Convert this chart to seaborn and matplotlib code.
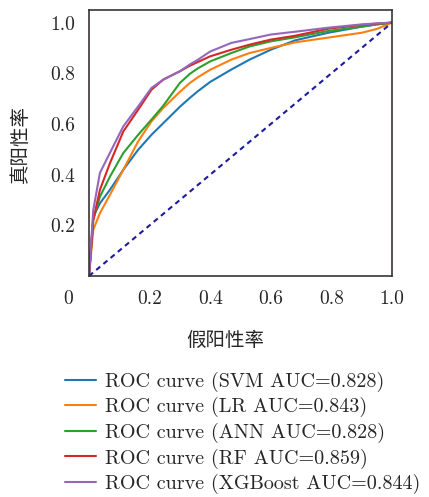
import numpy as np
import pandas as pd
import seaborn as sns
import matplotlib.pyplot as plt

# false positive rate grid
fpr = [0, 0.014, 0.036, 0.069, 0.113, 0.162, 0.206, 0.245, 0.30, 0.333,
       0.36, 0.40, 0.47, 0.53, 0.60, 0.68, 0.79, 0.90, 0.95, 1.0]

tpr_svm = [0, 0.234, 0.287, 0.340, 0.419, 0.498, 0.557, 0.603, 0.668, 0.703,
           0.730, 0.766, 0.815, 0.854, 0.893, 0.930, 0.960, 0.984, 0.993, 1.0]
tpr_lr = [0, 0.182, 0.248, 0.320, 0.419, 0.531, 0.610, 0.663, 0.727, 0.762,
          0.785, 0.814, 0.854, 0.880, 0.900, 0.922, 0.941, 0.960, 0.975, 1.0]
tpr_ann = [0, 0.221, 0.313, 0.392, 0.485, 0.557, 0.617, 0.672, 0.762, 0.798,
           0.820, 0.847, 0.880, 0.906, 0.926, 0.942, 0.967, 0.984, 0.993, 1.0]
tpr_rf = [0, 0.221, 0.340, 0.445, 0.570, 0.656, 0.735, 0.775, 0.808, 0.830,
          0.845, 0.867, 0.893, 0.913, 0.933, 0.948, 0.976, 0.991, 0.996, 1.0]
tpr_xgb = [0, 0.260, 0.407, 0.486, 0.590, 0.669, 0.742, 0.775, 0.808, 0.835,
           0.854, 0.886, 0.920, 0.935, 0.953, 0.964, 0.980, 0.993, 0.997, 1.0]

labels = ["ROC curve (SVM AUC=0.828)",
          "ROC curve (LR AUC=0.843)",
          "ROC curve (ANN AUC=0.828)",
          "ROC curve (RF AUC=0.859)",
          "ROC curve (XGBoost AUC=0.844)"]

# long-form table for seaborn
frames = []
for lab, tpr in zip(labels, [tpr_svm, tpr_lr, tpr_ann, tpr_rf, tpr_xgb]):
    frames.append(pd.DataFrame({'fpr': fpr, 'tpr': tpr, 'model': lab}))
df = pd.concat(frames, ignore_index=True)

sns.set_style('white')
plt.rcParams['font.family'] = ['cmr10', 'DejaVu Sans']
plt.rcParams['axes.unicode_minus'] = False
plt.rcParams['axes.formatter.use_mathtext'] = True

cn = ['Noto Sans CJK SC', 'DejaVu Sans']
spine_c = '#3b3333'

fig = plt.figure(figsize=(4.29, 4.97), dpi=100)
ax = fig.add_axes([0.2075, 0.4447, 0.7063, 0.5353])

sns.lineplot(data=df, x='fpr', y='tpr', hue='model', hue_order=labels,
             palette='tab10', estimator=None, sort=False, linewidth=1.5,
             legend=False, ax=ax)
ax.plot([0, 1], [0, 1], color='#1c1c9c', linestyle='--', linewidth=1.5,
        dashes=(2.5, 2))

ax.set_xlim(0, 1)
ax.set_ylim(0, 1.05)
ax.set_xticks([0.2, 0.4, 0.6, 0.8, 1.0])
ax.set_yticks([0.2, 0.4, 0.6, 0.8, 1.0])
ax.set_xticklabels(['0.2', '0.4', '0.6', '0.8', '1.0'])
ax.set_yticklabels(['0.2', '0.4', '0.6', '0.8', '1.0'])
ax.tick_params(direction='in', length=4, width=1, color=spine_c,
               labelsize=14, pad=10)
for s in ax.spines.values():
    s.set_color(spine_c)
    s.set_linewidth(1.2)

# shared origin label
ax.text(-0.07, -0.085, '0', transform=ax.transAxes, fontsize=14,
        ha='center', va='center')

ax.set_xlabel('')
ax.set_ylabel('')
fig.text(0.525, 0.315, '假阳性率', family=cn, fontsize=14,
         ha='center', va='center')
fig.text(0.048, 0.71, '真阳性率', family=cn, fontsize=14,
         ha='center', va='center', rotation=90)

colors = sns.color_palette('tab10', 5)
handles = [plt.Line2D([], [], color=c, linewidth=1.5) for c in colors]
fig.legend(handles, labels, loc='upper left',
           bbox_to_anchor=(0.1515, 0.252), frameon=False, fontsize=14.5,
           handlelength=1.55, handletextpad=0.45, labelspacing=0.27,
           borderpad=0, borderaxespad=0)

fig.savefig('out.png', dpi=100)
